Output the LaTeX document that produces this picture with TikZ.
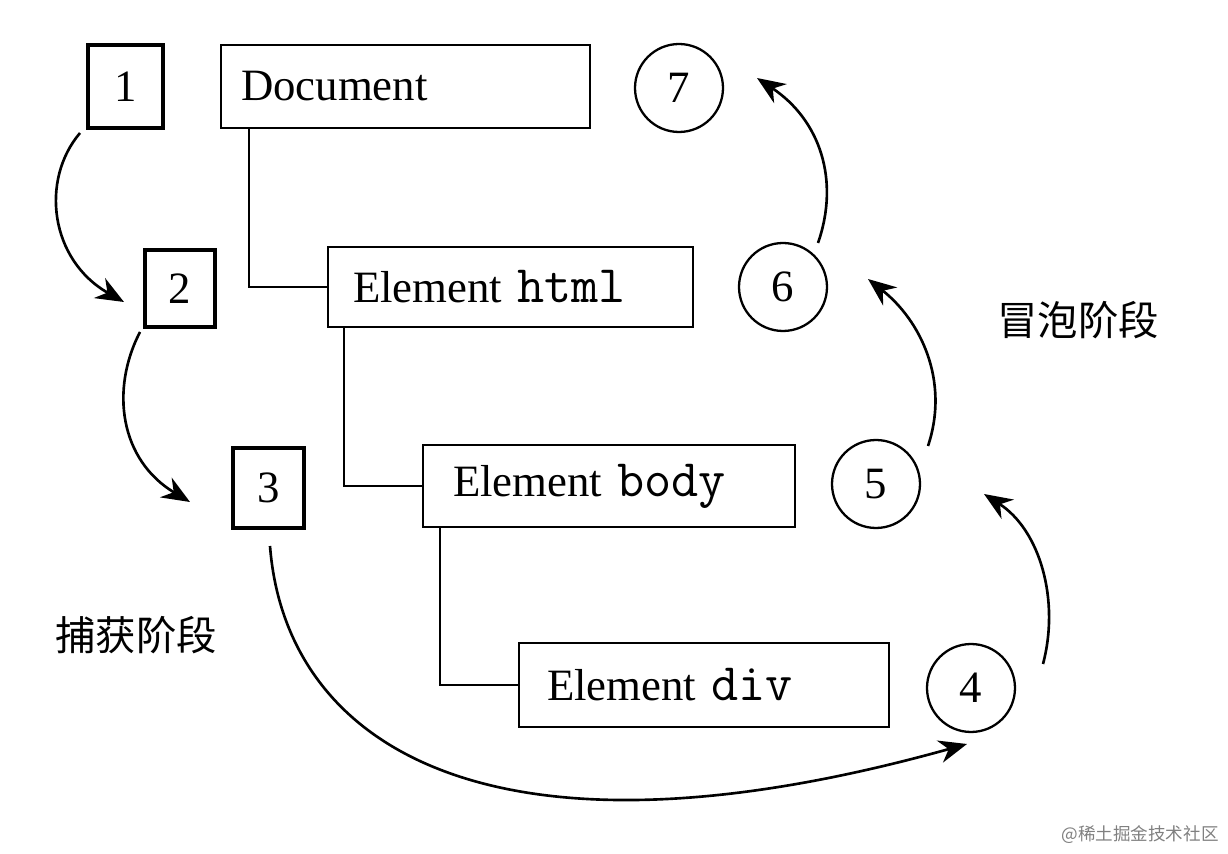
\documentclass[tikz,border=0pt]{standalone}
\usepackage{fontspec}
\setmainfont{Liberation Serif}
\newfontfamily\cjk{Noto Sans CJK SC}
\newcommand{\mytt}[1]{{\fontsize{30}{30}\selectfont\ttfamily #1}}
\usetikzlibrary{arrows.meta}
\begin{document}
\begin{tikzpicture}[x=0.02cm,y=-0.02cm,
  bx/.style={draw,line width=1.3pt,inner sep=0pt,font=\fontsize{25.5}{28}\selectfont},
  sq/.style={bx,line width=1.8pt},
  el/.style={bx,align=left},
  ci/.style={draw,circle,line width=1.3pt,minimum size=1.76cm,inner sep=0pt,font=\fontsize{25.5}{28}\selectfont},
  tr/.style={line width=1.5pt},
  ar/.style={line width=1.5pt,-{Stealth[length=16pt,width=13pt]}},
  lb/.style={font=\cjk\fontsize{23}{25}\selectfont}]
\useasboundingbox (0,0) rectangle (1228,854);
\node[sq,minimum width=1.5cm,minimum height=1.66cm] (b1) at (125.5,86.5) {1};
\node[sq,minimum width=1.4cm,minimum height=1.54cm] (b2) at (180,288.5) {2};
\node[sq,minimum width=1.42cm,minimum height=1.6cm] (b3) at (268.5,488) {3};
\node[el,minimum width=7.38cm,minimum height=1.66cm,text width=6.58cm] (doc) at (405.5,86.5) {Document};
\node[el,minimum width=7.3cm,minimum height=1.6cm,text width=6.3cm] (html) at (510.5,287) {Element \mytt{html}};
\node[el,minimum width=7.44cm,minimum height=1.64cm,text width=6.24cm] (body) at (609,486) {Element \mytt{body}};
\node[el,minimum width=7.4cm,minimum height=1.68cm,text width=6.28cm] (div) at (704,685) {Element \mytt{div}};
\node[ci] (c7) at (679,88) {7};
\node[ci] (c6) at (783,287) {6};
\node[ci] (c5) at (876,484) {5};
\node[ci] (c4) at (971,688) {4};
\draw[tr] ([xshift=0.58cm]doc.south west) |- (html.west);
\draw[tr] ([xshift=0.34cm]html.south west) |- (body.west);
\draw[tr] ([xshift=0.36cm]body.south west) |- (div.west);
\coordinate (s1) at (80,133); \coordinate (e1) at (124,302);
\coordinate (s2) at (140,332); \coordinate (e2) at (190,502);
\coordinate (s3) at (270,546); \coordinate (e3) at (967,744);
\coordinate (s4) at (1043,664); \coordinate (e4) at (984,494);
\coordinate (s5) at (928,446); \coordinate (e5) at (868,279);
\coordinate (s6) at (818,243); \coordinate (e6) at (757,78);
\draw[ar] (s1) .. controls (40,180) and (50,260) .. (e1);
\draw[ar] (s2) .. controls (110,390) and (120,460) .. (e2);
\draw[ar] (s3) .. controls (285,740) and (480,880) .. (e3);
\draw[ar] (s4) .. controls (1060,600) and (1040,530) .. (e4);
\draw[ar] (s5) .. controls (950,380) and (920,320) .. (e5);
\draw[ar] (s6) .. controls (840,180) and (820,120) .. (e6);
\node[lb] (cap) at (136,635) {捕获阶段};
\node[lb] (bub) at (1078,320) {冒泡阶段};
\node[font=\cjk\fontsize{10}{12}\selectfont,text=gray] (wm) at (1140,835) {@稀土掘金技术社区};
\end{tikzpicture}
\end{document}
